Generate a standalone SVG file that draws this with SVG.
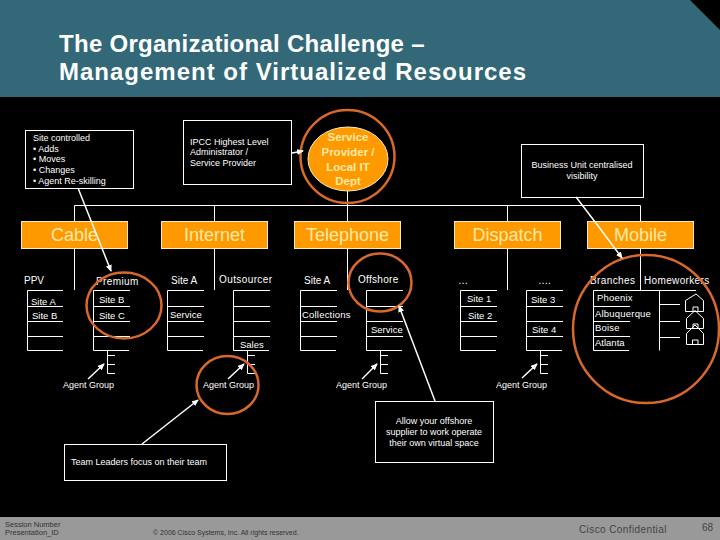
<svg xmlns="http://www.w3.org/2000/svg" width="720" height="540" viewBox="0 0 720 540">
<style>
text{font-family:"Liberation Sans",Arial,sans-serif;fill:#fff}
.s{font-size:9px}
.m{font-size:10px}
.h{font-size:18px;fill:#ffe9a8;text-anchor:middle}
.c{text-anchor:middle}
.b{fill:#000;stroke:#fff;stroke-width:1}
.o{fill:#f90;stroke:#ffe9c0;stroke-width:1}
.l{fill:none;stroke:#fff;stroke-width:1}
.a{fill:none;stroke:#fff;stroke-width:1.5;marker-end:url(#ah)}
.r{fill:none;stroke:#d8692a;stroke-width:2.5}
.f{fill:#333;font-size:7.500px}
</style>
<defs>
<marker id="ah" markerWidth="7" markerHeight="6" refX="6" refY="3" orient="auto" markerUnits="userSpaceOnUse"><path d="M0 0L7 3L0 6Z" fill="#fff"/></marker>
</defs>
<rect width="720" height="540" fill="#000"/>
<g id="header">
<polygon points="0,0 690,0 720,30 720,97 0,97" fill="#326878"/>
<text x="59" y="52" font-size="24" font-weight="bold" style="letter-spacing:.28px">The Organizational Challenge –</text>
<text x="59" y="80" font-size="24" font-weight="bold" style="letter-spacing:1px">Management of Virtualized Resources</text>
</g>
<g id="footer">
<rect y="517" width="720" height="23" fill="#999"/>
<text x="5" y="527" class="f">Session Number</text>
<text x="5" y="535" class="f">Presentation_ID</text>
<text x="153" y="535" class="f" style="font-size:7px">© 2006 Cisco Systems, Inc. All rights reserved.</text>
<text x="579" y="533" style="fill:#444;font-size:10px;letter-spacing:.4px">Cisco Confidential</text>
<text x="702" y="531" style="fill:#444;font-size:10px">68</text>
</g>
<g id="connectors">
<path class="l" d="M74.500 205.500H640.500M74.500 205.500V290M214.500 205.500V290M347.500 191V290M507.500 205.500V290M640.500 205.500V290"/>
<g id="trees">
<path class="l" d="M27.500 350.500V290.500H63M27.500 306.500H63M27.500 321.500H63M27.500 336.500H63M27.500 350.500H63"/>
<path class="l" d="M93.500 350.500V290.500H130M93.500 306.500H130M93.500 321.500H130M93.500 336.500H130M93.500 350.500H129"/>
<path class="l" d="M167.500 350.500V290.500H204M167.500 306.500H204M167.500 321.500H204M167.500 336.500H204M167.500 350.500H203"/>
<path class="l" d="M233.500 350.500V290.500H270M233.500 306.500H270M233.500 321.500H270M233.500 336.500H270M233.500 350.500H269"/>
<path class="l" d="M300.500 350.500V290.500H337M300.500 306.500H337M300.500 321.500H337M300.500 336.500H337M300.500 350.500H336"/>
<path class="l" d="M366.500 350.500V290.500H403M366.500 306.500H403M366.500 321.500H403M366.500 336.500H403M366.500 350.500H402"/>
<path class="l" d="M460.500 350.500V290.500H497M460.500 306.500H497M460.500 321.500H497M460.500 336.500H497M460.500 350.500H496"/>
<path class="l" d="M526.500 350.500V290.500H563M526.500 306.500H563M526.500 321.500H563M526.500 336.500H563M526.500 350.500H562"/>
<path class="l" d="M593.500 350.500V290.500H696M593.500 306.500H630M593.500 321.500H630M593.500 336.500H630M593.500 350.500H629"/>
<path class="l" d="M659.500 290.500V350.500M659.500 304.500H680M659.500 321.500H680M659.500 337.500H680"/>
</g>
<g id="stubs">
<path class="l" d="M107.500 350V373.500M107.500 355.500H115M107.500 364.500H115M107.500 373.500H115"/>
<path class="l" d="M247.500 350V373.500M247.500 355.500H255M247.500 364.500H255M247.500 373.500H255"/>
<path class="l" d="M380.500 350V373.500M380.500 355.500H388M380.500 364.500H388M380.500 373.500H388"/>
<path class="l" d="M540.500 350V373.500M540.500 355.500H548M540.500 364.500H548M540.500 373.500H548"/>
</g>
</g>
<g id="node-site-controlled">
<rect class="b" x="25.500" y="130.500" width="108" height="58"/>
<text class="s" x="33" y="141">Site controlled</text>
<text class="s" x="33" y="152">• Adds</text>
<text class="s" x="33" y="162">• Moves</text>
<text class="s" x="33" y="173">• Changes</text>
<text class="s" x="33" y="184">• Agent Re-skilling</text>
</g>
<g id="node-ipcc">
<rect class="b" x="183.500" y="120.500" width="108" height="64"/>
<text class="s" x="190" y="145">IPCC Highest Level</text>
<text class="s" x="190" y="155">Administrator /</text>
<text class="s" x="190" y="166">Service Provider</text>
</g>
<g id="node-service-provider">
<ellipse class="o" cx="348" cy="159" rx="40" ry="32"/>
<g font-weight="bold" text-anchor="middle" style="font-size:11.500px">
<text x="348" y="141" style="fill:#ffe9a8">Service</text>
<text x="348" y="156" style="fill:#ffe9a8">Provider /</text>
<text x="348" y="171" style="fill:#ffe9a8">Local IT</text>
<text x="348" y="185" style="fill:#ffe9a8">Dept</text>
</g>
</g>
<g id="node-business">
<rect class="b" x="521.500" y="144.500" width="122" height="53"/>
<text class="s c" x="582" y="168">Business Unit centralised</text>
<text class="s c" x="582" y="179">visibility</text>
</g>
<g id="node-cable"><rect class="o" x="21.500" y="221.500" width="106" height="27"/><text class="h" x="74.500" y="241">Cable</text></g>
<g id="node-internet"><rect class="o" x="161.500" y="221.500" width="106" height="27"/><text class="h" x="214.500" y="241">Internet</text></g>
<g id="node-telephone"><rect class="o" x="294.500" y="221.500" width="106" height="27"/><text class="h" x="347.500" y="241">Telephone</text></g>
<g id="node-dispatch"><rect class="o" x="454.500" y="221.500" width="106" height="27"/><text class="h" x="507.500" y="241">Dispatch</text></g>
<g id="node-mobile"><rect class="o" x="587.500" y="221.500" width="106" height="27"/><text class="h" x="640.500" y="241">Mobile</text></g>
<g id="labels">
<text class="m" x="24" y="284">PPV</text>
<text class="m" x="96" y="285" style="letter-spacing:.4px">Premium</text>
<text class="m" x="171" y="284">Site A</text>
<text class="m" x="219" y="283" style="letter-spacing:.4px">Outsourcer</text>
<text class="m" x="304" y="284">Site A</text>
<text class="m" x="358" y="283" style="letter-spacing:.3px">Offshore</text>
<text class="m" x="458" y="284">…</text>
<text class="m" x="538" y="284">….</text>
<text class="m" x="590" y="284" style="letter-spacing:.4px">Branches</text>
<text class="m" x="644" y="284" style="letter-spacing:.35px">Homeworkers</text>
<text class="s" x="31" y="305" style="font-size:9.500px">Site A</text>
<text class="s" x="32" y="319" style="font-size:9.500px">Site B</text>
<text class="s" x="99" y="303" style="font-size:9.500px">Site B</text>
<text class="s" x="99" y="319" style="font-size:9.500px">Site C</text>
<text class="s" x="170" y="318" style="font-size:9.500px">Service</text>
<text class="s" x="240" y="348" style="font-size:9.500px">Sales</text>
<text class="s" x="302" y="318" style="font-size:9.500px;letter-spacing:.2px">Collections</text>
<text class="s" x="371" y="333" style="font-size:9.500px">Service</text>
<text class="s" x="467" y="302" style="font-size:9.500px">Site 1</text>
<text class="s" x="468" y="319" style="font-size:9.500px">Site 2</text>
<text class="s" x="531" y="303" style="font-size:9.500px">Site 3</text>
<text class="s" x="532" y="333" style="font-size:9.500px">Site 4</text>
<text class="s" x="597" y="301" style="font-size:9.500px;letter-spacing:.2px">Phoenix</text>
<text class="s" x="595" y="317" style="font-size:9.500px;letter-spacing:.2px">Albuquerque</text>
<text class="s" x="595" y="331" style="font-size:9.500px;letter-spacing:.2px">Boise</text>
<text class="s" x="595" y="346" style="font-size:9.500px">Atlanta</text>
<text class="s" x="63" y="388">Agent Group</text>
<text class="s" x="203" y="388">Agent Group</text>
<text class="s" x="336" y="388">Agent Group</text>
<text class="s" x="496" y="388">Agent Group</text>
</g>
<g id="homes">
<path class="l" d="M685.500 300.500L696 294L703.500 300.500V311.500H685.500ZM693 311.500V307H698V311.500"/>
<path class="l" d="M686.500 318.500L695 310.500L703.500 318.500V328.500H686.500ZM693 328.500V324H698V328.500"/>
<path class="l" d="M686.500 333.500L695 325L703.500 333.500V344.500H686.500ZM692.500 344.500V340H698V344.500"/>
</g>
<g id="node-offshore-note">
<rect class="b" x="375.500" y="401.500" width="118" height="61"/>
<text class="s c" x="434" y="424">Allow your offshore</text>
<text class="s c" x="434" y="435">supplier to work operate</text>
<text class="s c" x="434" y="446">their own virtual space</text>
</g>
<g id="node-team-note">
<rect class="b" x="64.500" y="444.500" width="162" height="36"/>
<text class="s" x="71" y="465">Team Leaders focus on their team</text>
</g>
<g id="highlights">
<ellipse class="r" cx="347.500" cy="156.500" rx="47" ry="46.500"/>
<ellipse class="r" cx="124" cy="305.500" rx="37.500" ry="33"/>
<ellipse class="r" cx="227.500" cy="385" rx="31" ry="29"/>
<ellipse class="r" cx="380" cy="282.500" rx="31.500" ry="29"/>
<ellipse class="r" cx="646" cy="329" rx="73" ry="74"/>
</g>
<g id="arrows">
<path class="a" d="M78 188L111 271"/>
<path class="a" d="M292 153L303 151"/>
<path class="a" d="M576 197Q600 228 622 258"/>
<path class="a" d="M435 401L399 306"/>
<path class="a" d="M142 444L198 400"/>
<path class="a" d="M88 379L104 364"/>
<path class="a" d="M228 379L244 364"/>
<path class="a" d="M362 379L377 364"/>
<path class="a" d="M522 378L537 364"/>
</g>
</svg>
